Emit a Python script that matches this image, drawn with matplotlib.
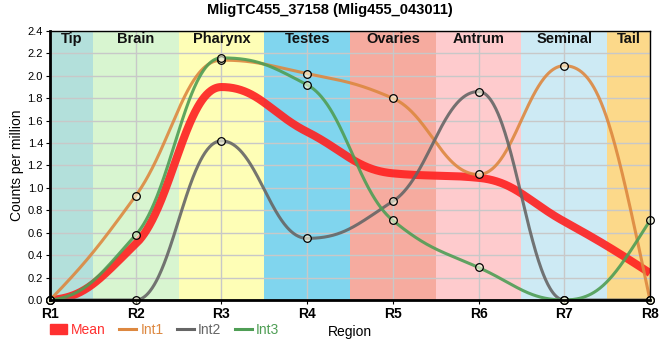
import numpy as np
import matplotlib
matplotlib.use("Agg")
import matplotlib.pyplot as plt
from matplotlib.patches import Patch
from matplotlib.lines import Line2D

plt.rcParams['font.family'] = ['Liberation Sans Narrow', 'Liberation Sans', 'DejaVu Sans']

title = "MligTC455_37158 (Mlig455_043011)"
positions = ["R1", "R2", "R3", "R4", "R5", "R6", "R7", "R8"]
regions = ["Tip", "Brain", "Pharynx", "Testes", "Ovaries", "Antrum", "Seminal", "Tail"]
region_colors = ["#b3e0db", "#d8f5d0", "#fefeb6", "#80d5ee", "#f6ab9f", "#fecbcd", "#cdeaf4", "#fcd98a"]

mean = [0.0, 0.50, 1.90, 1.50, 1.13, 1.09, 0.70, 0.24]
int1 = [0.0, 0.93, 2.14, 2.02, 1.80, 1.12, 2.09, 0.0]
int2 = [0.0, 0.0, 1.42, 0.55, 0.88, 1.86, 0.0, 0.0]
int3 = [0.0, 0.58, 2.16, 1.92, 0.71, 0.29, 0.0, 0.71]


def tangents(x, y):
    h = np.diff(x); d = np.diff(y) / h
    n = len(x)
    m = np.zeros(n)
    for k in range(1, n - 1):
        if d[k - 1] * d[k] > 0:
            w1 = 2 * h[k] + h[k - 1]
            w2 = h[k] + 2 * h[k - 1]
            m[k] = (w1 + w2) / (w1 / d[k - 1] + w2 / d[k])

    def end(h0, h1, d0, d1):
        s = ((2 * h0 + h1) * d0 - h0 * d1) / (h0 + h1)
        if np.sign(s) != np.sign(d0):
            s = 0.0
        elif np.sign(d0) != np.sign(d1) and abs(s) > abs(3 * d0):
            s = 3 * d0
        return s
    m[0] = end(h[0], h[1], d[0], d[1])
    m[-1] = end(h[-1], h[-2], d[-1], d[-2])
    return m


def smooth(x, y, c=0.42, npts=120):
    # cubic bezier per segment, control points pushed out horizontally
    x = np.asarray(x, float); y = np.asarray(y, float)
    m = tangents(x, y)
    t = np.linspace(0, 1, npts)[:, None]
    px, py = [], []
    for k in range(len(x) - 1):
        h = x[k + 1] - x[k]
        P = np.array([[x[k], y[k]],
                      [x[k] + c * h, y[k] + c * h * m[k]],
                      [x[k + 1] - c * h, y[k + 1] - c * h * m[k + 1]],
                      [x[k + 1], y[k + 1]]])
        B = ((1 - t)**3 * P[0] + 3 * (1 - t)**2 * t * P[1]
             + 3 * (1 - t) * t**2 * P[2] + t**3 * P[3])
        px.append(B[:, 0]); py.append(B[:, 1])
    return np.concatenate(px), np.concatenate(py)


fig = plt.figure(figsize=(6.6, 3.6), dpi=100)
ax = fig.add_axes([50 / 660, 60 / 360, 600 / 660, 269 / 360])

x = np.arange(len(positions))

for i, (name, col) in enumerate(zip(regions, region_colors)):
    lo = max(i - 0.5, 0)
    hi = min(i + 0.5, len(positions) - 1)
    ax.axvspan(lo, hi, color=col, lw=0, zorder=0)
    ax.text((lo + hi) / 2, 2.33, name, ha='center', va='center', fontsize=10.5,
            fontweight='bold', color='#111111', zorder=5)

ax.set_axisbelow(False)
ax.grid(True, color='#c8c8c8', lw=1, zorder=1)

series = [("Int1", int1, "#dd8840"), ("Int2", int2, "#666666"), ("Int3", int3, "#4f9e55")]
ax.plot(*smooth(x, mean), color='#ff2020', lw=5.8, alpha=0.9, zorder=3,
        solid_capstyle='butt')
for name, vals, col in series:
    ax.plot(*smooth(x, vals), color=col, lw=2.2, alpha=0.9, zorder=4)
for name, vals, col in series:
    ax.plot(x, vals, 'o', ms=5.5, mfc=(1, 1, 0.9, 0.6), mec='black', mew=0.9,
            zorder=6, clip_on=False)

ax.set_xlim(0, len(positions) - 1)
ax.set_ylim(0, 2.4)
ax.set_yticks(np.arange(0, 2.41, 0.2))
ax.set_yticklabels([f"{v:.1f}" for v in np.arange(0, 2.41, 0.2)], fontsize=8)
ax.set_xticks(x)
ax.set_xticklabels(positions, fontsize=10, fontweight='bold')
ax.tick_params(axis='y', length=3, pad=2)
ax.tick_params(axis='x', length=3, pad=2)

for s in ['left', 'bottom']:
    ax.spines[s].set_linewidth(2)
for s in ['top', 'right']:
    ax.spines[s].set_linewidth(1)
for s in ax.spines.values():
    s.set_zorder(7)

ax.set_ylabel("Counts per million", fontsize=10)
ax.yaxis.set_label_coords(-26 / 600, 0.5)
ax.set_xlabel("Region", fontsize=10, labelpad=3)
fig.text(330 / 660, 1 - 10 / 360, title, ha='center', va='center', fontsize=10.5,
         fontweight='bold')

handles = [Patch(color='#ff3030', label='Mean')]
handles += [Line2D([], [], color=c, lw=2.2, label=n) for n, _, c in series]
leg = fig.legend(handles=handles, loc='center left', bbox_to_anchor=(50 / 660, 1 - 330 / 360),
                 ncol=4, frameon=False, fontsize=10, handlelength=1.2, handletextpad=0.3,
                 columnspacing=1.0, borderaxespad=0, borderpad=0)
for t, c in zip(leg.get_texts(), ['#ff3030', '#dd8840', '#666666', '#4f9e55']):
    t.set_color(c)

fig.savefig("out.png", dpi=100)
